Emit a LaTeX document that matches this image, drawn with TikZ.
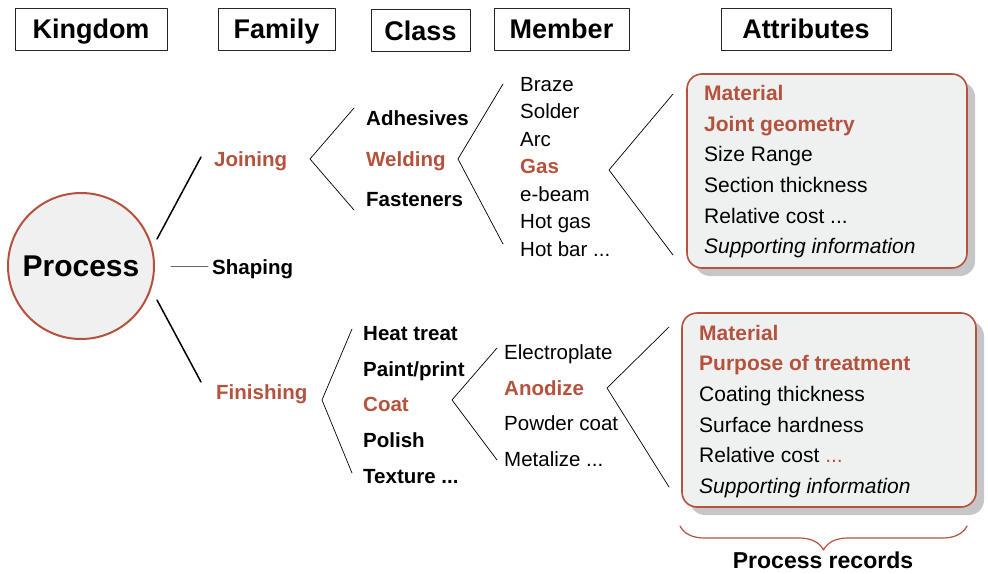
\documentclass[tikz,border=0pt]{standalone}
\usepackage{fontspec}
\setmainfont{Liberation Sans}
\usetikzlibrary{decorations.pathreplacing}
\definecolor{rust}{RGB}{181,82,62}
\definecolor{boxfill}{RGB}{239,240,240}
\definecolor{shade}{RGB}{198,198,200}

\begin{document}
\begin{tikzpicture}[x=1pt, y=-1pt, line join=round, line cap=round,
  hd/.style={draw=black!85, line width=0.9pt, inner sep=0pt, minimum height=42pt,
    text height=19.3pt, text depth=0pt, font=\fontsize{27}{29}\selectfont\bfseries},
  t/.style={anchor=west, inner sep=0pt, text height=14.6pt, text depth=0pt},
  b/.style={t, font=\fontsize{20.5}{22}\selectfont\bfseries},
  m/.style={t, font=\fontsize{20.5}{22}\selectfont},
  a/.style={t, font=\fontsize{21}{23}\selectfont},
  ab/.style={a, font=\fontsize{21}{23}\selectfont\bfseries, text=rust},
  hi/.style={text=rust},
  lk/.style={line width=1.5pt},
  br/.style={line width=0.7pt},
  rec/.style={draw=rust, line width=1.6pt, fill=boxfill, rounded corners=15pt, inner sep=0pt},
  sh/.style={fill=shade, rounded corners=15pt, inner sep=0pt}
]
  \useasboundingbox (0,0) rectangle (988,573);

  % headers
  \node[hd, minimum width=152pt] (kingdom) at (91,29) {Kingdom};
  \node[hd, minimum width=117pt] (family) at (276.5,29) {Family};
  \node[hd, minimum width=99pt] (class) at (420.5,30.5) {Class};
  \node[hd, minimum width=135pt] (member) at (561.5,29) {Member};
  \node[hd, minimum width=170pt] (attrib) at (806,29) {Attributes};

  % kingdom and families
  \node[circle, draw=rust, line width=2pt, fill=black!6, minimum size=146pt,
    font=\fontsize{30}{32}\selectfont\bfseries] (process) at (81,266) {Process};

  \node[b, hi] (joining) at (214,159) {Joining};
  \node[b] (shaping) at (212,267) {Shaping};
  \node[b, hi] (finishing) at (216,392) {Finishing};

  \coordinate (j0) at (157,239);
  \coordinate (j1) at (201,157);
  \coordinate (f0) at (157,300);
  \coordinate (f1) at (201,382);
  \coordinate (s0) at (171,266);
  \draw[lk] (j0) -- (j1);
  \draw[lk] (f0) -- (f1);
  \draw[line width=1pt, black!60] (s0) -- ([xshift=-4pt]shaping.west |- s0);

  % joining branch
  \node[b] (adhesives) at (366,118) {Adhesives};
  \node[b, hi] (welding) at (366,159) {Welding};
  \node[b] (fasteners) at (366,199) {Fasteners};
  \coordinate (jc0) at (310,159);
  \coordinate (jc1) at (354,108);
  \coordinate (jc2) at (354,210);
  \draw[br] (jc1) -- (jc0) -- (jc2);

  \node[m] (braze) at (520,84) {Braze};
  \node[m] (solder) at (520,111) {Solder};
  \node[m] (arc) at (520,139) {Arc};
  \node[b, hi] (gas) at (520,166) {Gas};
  \node[m] (ebeam) at (520,194) {e-beam};
  \node[m] (hotgas) at (520,221) {Hot gas};
  \node[m] (hotbar) at (520,249) {Hot bar ...};
  \coordinate (wm0) at (458,159);
  \coordinate (wm1) at (503,84);
  \coordinate (wm2) at (503,244);
  \draw[br] (wm1) -- (wm0) -- (wm2);

  \coordinate (ga0) at (609,170);
  \coordinate (ga1) at (673,94);
  \coordinate (ga2) at (673,255);
  \draw[br] (ga1) -- (ga0) -- (ga2);

  \node[sh, minimum width=280pt, minimum height=194pt] (rec1s) at (835,179) {};
  \node[rec, minimum width=280pt, minimum height=194pt] (rec1) at (827,171) {};
  \node[ab] (r1a) at (704,93) {Material};
  \node[ab] (r1b) at (704,124) {Joint geometry};
  \node[a] (r1c) at (704,154) {Size Range};
  \node[a] (r1d) at (704,185) {Section thickness};
  \node[a] (r1e) at (704,216) {Relative cost ...};
  \node[a, font=\fontsize{21}{23}\selectfont\itshape] (r1f) at (704,246) {Supporting information};

  % finishing branch
  \node[b] (heat) at (363,333) {Heat treat};
  \node[b] (paint) at (363,369) {Paint/print};
  \node[b, hi] (coat) at (363,404) {Coat};
  \node[b] (polish) at (363,440) {Polish};
  \node[b] (texture) at (363,476) {Texture ...};
  \coordinate (fc0) at (322,400);
  \coordinate (fc1) at (352,329);
  \coordinate (fc2) at (352,473);
  \draw[br] (fc1) -- (fc0) -- (fc2);

  \node[m] (electro) at (504,352) {Electroplate};
  \node[b, hi] (anodize) at (504,388) {Anodize};
  \node[m] (powder) at (504,423) {Powder coat};
  \node[m] (metal) at (504,459) {Metalize ...};
  \coordinate (cm0) at (452,400);
  \coordinate (cm1) at (497,348);
  \coordinate (cm2) at (497,460);
  \draw[br] (cm1) -- (cm0) -- (cm2);

  \coordinate (an0) at (607,388);
  \coordinate (an1) at (669,327);
  \coordinate (an2) at (669,487);
  \draw[br] (an1) -- (an0) -- (an2);

  \node[sh, minimum width=294pt, minimum height=194pt] (rec2s) at (837,418) {};
  \node[rec, minimum width=294pt, minimum height=194pt] (rec2) at (829,410) {};
  \node[ab] (r2a) at (699,333) {Material};
  \node[ab] (r2b) at (699,363) {Purpose of treatment};
  \node[a] (r2c) at (699,394) {Coating thickness};
  \node[a] (r2d) at (699,425) {Surface hardness};
  \node[a] (r2e) at (699,455) {Relative cost \textcolor{rust}{...}};
  \node[a, font=\fontsize{21}{23}\selectfont\itshape] (r2f) at (699,486) {Supporting information};

  % records brace
  \coordinate (bl) at (680,526);
  \coordinate (brr) at (967,526);
  \draw[rust, line width=1.2pt, decorate,
    decoration={brace, mirror, amplitude=24pt, aspect=0.5}] (bl) -- (brr);
  \node[font=\fontsize{23}{25}\selectfont\bfseries, inner sep=0pt,
    text height=16.5pt, text depth=0pt] (records) at (823,560) {Process records};
\end{tikzpicture}
\end{document}
